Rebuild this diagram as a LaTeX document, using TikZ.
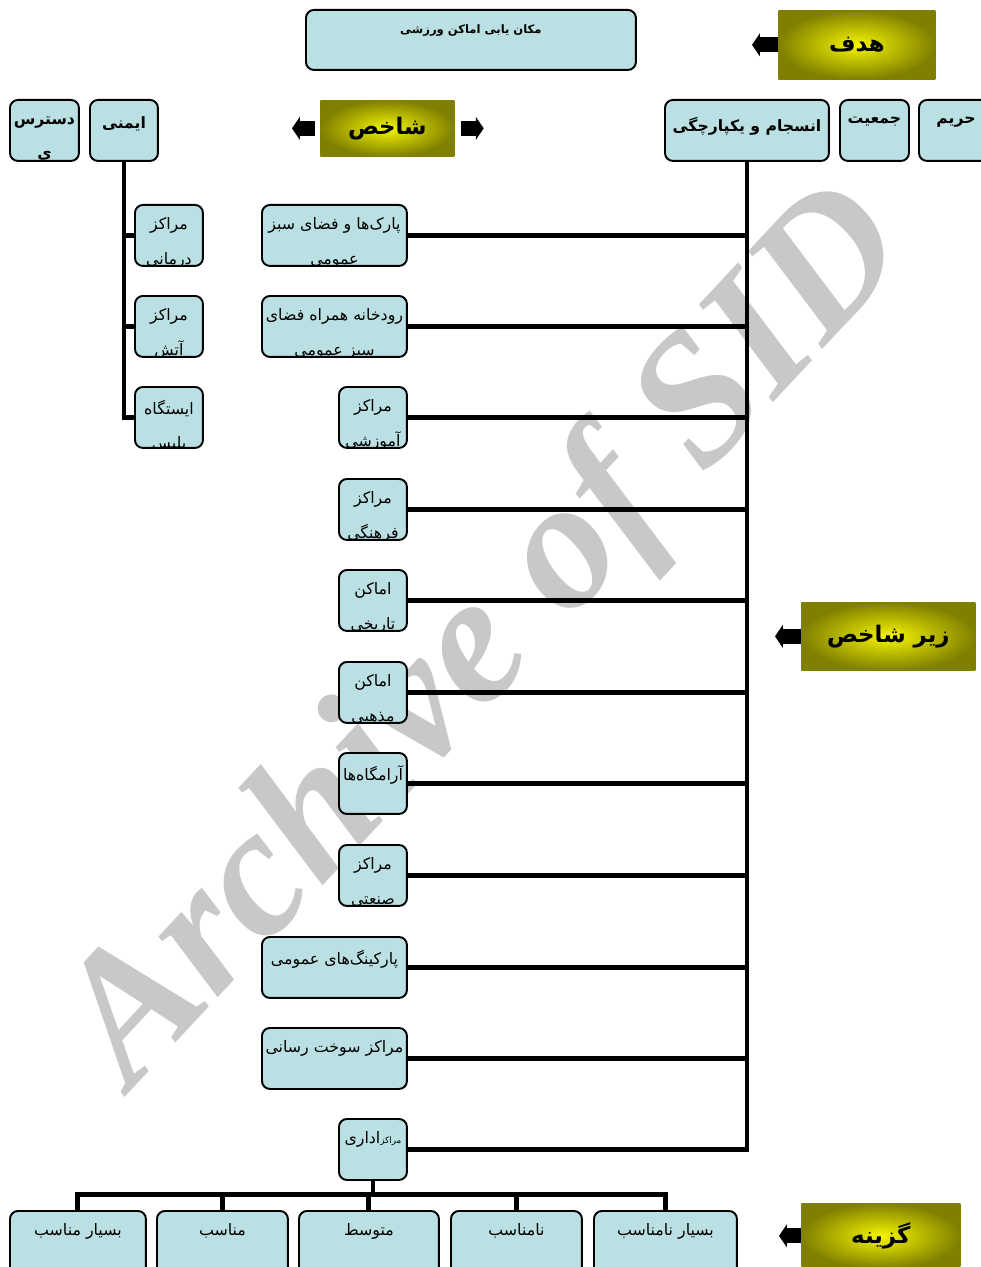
\documentclass[tikz,border=0pt]{standalone}
\usepackage{fontspec}
\newfontfamily\persfont[Script=Arabic]{DejaVu Sans}
\newfontfamily\wmfont{Liberation Serif}
\usetikzlibrary{arrows.meta,calc}
\TeXXeTstate=1

\definecolor{boxblue}{RGB}{187,224,228}
\definecolor{goldin}{RGB}{245,245,0}
\definecolor{goldout}{RGB}{128,128,0}
\definecolor{wmgray}{RGB}{200,200,200}

\tikzstyle{block} = [draw, fill=boxblue, line width=1.1pt, rounded corners=0.16cm,
    anchor=north west, inner sep=0pt, minimum height=1.22cm]
\tikzstyle{wide} = [block, minimum width=2.9cm]
\tikzstyle{narrow} = [block, minimum width=1.36cm]
\tikzstyle{gold} = [anchor=north west, inner color=goldin, outer color=goldout,
    font=\persfont\bfseries\fontsize{13}{15}\selectfont, inner sep=0pt]
\tikzstyle{link} = [line width=2.8pt]
\tikzstyle{blk} = [line width=8.5pt, -{Triangle[length=4.5pt,width=13pt]}]

\tikzset{
  txt/.style={font=\persfont\fontsize{9}{19.5}\selectfont, align=center, anchor=north,
      inner sep=0pt, minimum width=0pt, minimum height=0pt},
  lbl/.style={path picture={\node[txt] at ($(path picture bounding box.north)+(0,12)$) {#1};}},
  hlbl/.style={path picture={\node[txt, font=\persfont\bfseries\fontsize{8.9}{19.5}\selectfont]
      at ($(path picture bounding box.north)+(0,16)$) {#1};}},
}

\begin{document}
\begin{tikzpicture}[x=0.02cm, y=-0.02cm]
\useasboundingbox (0,0) rectangle (980,1267);

% watermark
\node[name=wm, font=\wmfont\bfseries\itshape\fontsize{105}{110}\selectfont, text=wmgray, rotate=47]
  at (490,640) {Archive of SID};

% goal
\node[block, minimum width=6.6cm, minimum height=1.2cm, name=title,
  path picture={\node[txt, font=\persfont\bfseries\fontsize{6.6}{8}\selectfont]
      at ($(path picture bounding box.north)+(0,14)$) {\beginR مکان یابی اماکن ورزشی\endR};}] at (305,9) {};
\node[gold, minimum width=3.14cm, minimum height=1.38cm, name=goal] at (778,10) {\beginR هدف\endR};
\draw[blk] (goal.west) -- ++(-26,0);

% indices
\node[gold, minimum width=2.68cm, minimum height=1.12cm, name=index] at (320,100) {\beginR شاخص\endR};
\draw[blk] ($(index.west)+(-5,0)$) -- ++(-23,0);
\draw[blk] ($(index.east)+(6,0)$) -- ++(23,0);

\node[block, minimum width=1.38cm, hlbl={\beginR دسترس\endR\\\beginR ی\endR}, name=access] at (9,99) {};
\node[block, minimum width=1.36cm, hlbl={\beginR ایمنی\endR}, name=safety] at (89,99) {};
\node[block, minimum width=3.28cm, hlbl={\beginR انسجام و یکپارچگی\endR}, name=cohesion] at (664,99) {};
\node[block, minimum width=1.38cm, hlbl={\beginR جمعیت\endR}, name=popul] at (839,99) {};
\node[block, minimum width=1.48cm, hlbl={\beginR حریم\endR}, name=buffer] at (918,99) {};

% sub-indices of safety
\node[narrow, lbl={\beginR مراکز\endR\\\beginR درمانی\endR}, name=hosp] at (134,204) {};
\node[narrow, lbl={\beginR مراکز\endR\\\beginR آتش\endR\\\beginR نشانی\endR}, name=fire] at (134,295) {};
\node[narrow, lbl={\beginR ایستگاه\endR\\\beginR پلیس\endR}, name=police] at (134,386) {};

\draw[link] (safety.south) |- (police.west);
\draw[link] (hosp.west -| safety.south) -- (hosp.west);
\draw[link] (fire.west -| safety.south) -- (fire.west);

% sub-indices of cohesion
\node[wide, lbl={\beginR پارک‌ها و فضای سبز\endR\\\beginR عمومی\endR}, name=parks] at (261,204) {};
\node[wide, lbl={\beginR رودخانه همراه فضای\endR\\\beginR سبز عمومی\endR}, name=river] at (261,295) {};
\node[narrow, lbl={\beginR مراکز\endR\\\beginR آموزشی\endR}, name=school] at (338,386) {};
\node[narrow, lbl={\beginR مراکز\endR\\\beginR فرهنگی\endR}, name=culture] at (338,478) {};
\node[narrow, lbl={\beginR اماکن\endR\\\beginR تاریخی\endR}, name=historic] at (338,569) {};
\node[narrow, lbl={\beginR اماکن\endR\\\beginR مذهبی\endR}, name=religious] at (338,661) {};
\node[narrow, lbl={\beginR آرامگاه‌ها\endR}, name=tombs] at (338,752) {};
\node[narrow, lbl={\beginR مراکز\endR\\\beginR صنعتی\endR}, name=industry] at (338,844) {};
\node[wide, lbl={\beginR پارکینگ‌های عمومی\endR}, name=parking] at (261,936) {};
\node[wide, lbl={\beginR مراکز سوخت رسانی\endR}, name=fuel] at (261,1027) {};
\node[narrow, lbl={\beginR{\fontsize{5}{6}\selectfont مراکز}اداری\endR}, name=office] at (338,1118) {};

\draw[link] (cohesion.south) |- (office.east);
\draw[link] (parks.east) -- (parks.east -| cohesion.south);
\draw[link] (river.east) -- (river.east -| cohesion.south);
\draw[link] (school.east) -- (school.east -| cohesion.south);
\draw[link] (culture.east) -- (culture.east -| cohesion.south);
\draw[link] (historic.east) -- (historic.east -| cohesion.south);
\draw[link] (religious.east) -- (religious.east -| cohesion.south);
\draw[link] (tombs.east) -- (tombs.east -| cohesion.south);
\draw[link] (industry.east) -- (industry.east -| cohesion.south);
\draw[link] (parking.east) -- (parking.east -| cohesion.south);
\draw[link] (fuel.east) -- (fuel.east -| cohesion.south);

\node[gold, minimum width=3.48cm, minimum height=1.36cm, name=subindex] at (801,602) {\beginR زیر شاخص\endR};
\draw[blk] (subindex.west) -- ++(-26,0);

% options
\node[block, minimum width=2.72cm, minimum height=1.4cm, lbl={\beginR بسیار مناسب\endR}, name=vgood] at (9,1210) {};
\node[block, minimum width=2.62cm, minimum height=1.4cm, lbl={\beginR مناسب\endR}, name=good] at (156,1210) {};
\node[block, minimum width=2.8cm, minimum height=1.4cm, lbl={\beginR متوسط\endR}, name=medium] at (298,1210) {};
\node[block, minimum width=2.62cm, minimum height=1.4cm, lbl={\beginR نامناسب\endR}, name=bad] at (450,1210) {};
\node[block, minimum width=2.86cm, minimum height=1.4cm, lbl={\beginR بسیار نامناسب\endR}, name=vbad] at (593,1210) {};

\coordinate (bus) at ($(office.south)+(0,14)$);
\draw[link] (office.south) -- (bus);
\draw[link] (vgood.north) |- (bus) -| (vbad.north);
\draw[link] (good.north) -- (good.north |- bus);
\draw[link] (medium.north) -- (medium.north |- bus);
\draw[link] (bad.north) -- (bad.north |- bus);

\node[gold, minimum width=3.18cm, minimum height=1.3cm, name=option] at (801,1203) {\beginR گزینه\endR};
\draw[blk] (option.west) -- ++(-22,0);
\end{tikzpicture}
\end{document}
